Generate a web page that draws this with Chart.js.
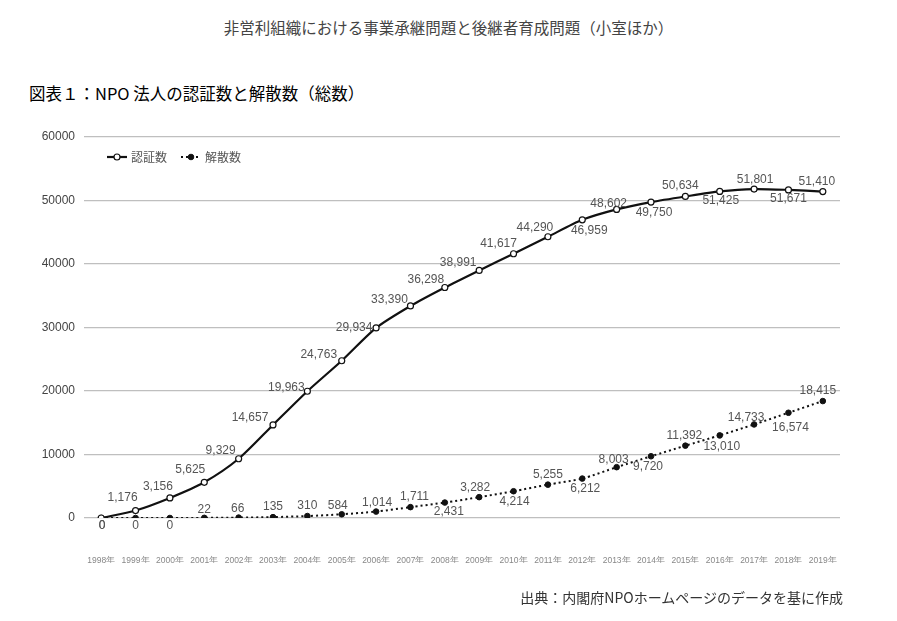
<!DOCTYPE html>
<html lang="ja">
<head>
<meta charset="utf-8">
<script src="https://cdn.jsdelivr.net/npm/chart.js@4.4.1/dist/chart.umd.min.js"></script>
<style>
  html, body { margin: 0; padding: 0; background: #fff; }
  #wrap { position: relative; width: 897px; height: 621px; overflow: hidden; font-family: "Noto Sans CJK JP", "Noto Sans", sans-serif; }
  #chart { position: absolute; left: 0; top: 0; }
  .txt { position: absolute; line-height: 1; white-space: nowrap; }
  #title { top: 20px; left: 0; width: 897px; text-align: center; font-size: 15.5px; color: #444; }
  #subtitle { top: 85px; left: 29px; font-size: 16.5px; font-weight: 400; color: #000; }
  #source { top: 590px; right: 54px; font-size: 14px; color: #333; }
</style>
</head>
<body>
<div id="wrap">
  <div id="title" class="txt">非営利組織における事業承継問題と後継者育成問題（小室ほか）</div>
  <div id="subtitle" class="txt">図表１：NPO 法人の認証数と解散数（総数）</div>
  <canvas id="chart" width="897" height="621"></canvas>
  <div id="source" class="txt">出典：内閣府NPOホームページのデータを基に作成</div>
</div>
<script>
// データ
const years = ['1998年', '1999年', '2000年', '2001年', '2002年', '2003年', '2004年', '2005年', '2006年', '2007年', '2008年',
    '2009年', '2010年', '2011年', '2012年', '2013年', '2014年', '2015年', '2016年', '2017年', '2018年', '2019年'];
const ninshou = [0, 1176, 3156, 5625, 9329, 14657, 19963, 24763, 29934, 33390, 36298,
    38991, 41617, 44290, 46959, 48602, 49750, 50634, 51425, 51801, 51671, 51410];
const kaisan = [0, 0, 0, 22, 66, 135, 310, 584, 1014, 1711, 2431,
    3282, 4214, 5255, 6212, 8003, 9720, 11392, 13010, 14733, 16574, 18415];
const yTicks = [0, 10000, 20000, 30000, 40000, 50000, 60000];

// ラベルの位置 (dx, dy)
const ninshouLabelPos = [[1, 8], [-13, -13], [-12, -11], [-14, -13], [-18, -8], [-23, -7], [-21, -4], [-23, -6], [-22, 0],
    [-21, -6], [-19, -8], [-21, -8], [-15, -10], [-13, -9], [7, 11], [-8, -6], [3, 11], [-5, -11], [1, 9], [1, -9], [0, 9], [-6, -10]];
const kaisanLabelPos = [[1, 8], [0, 8], [0, 8], [0, -8], [-1, -9], [0, -10], [0, -10], [-4, -9], [1, -9], [4, -10], [4, 9],
    [-4, -9], [1, 10], [0, -10], [3, 10], [-3, -7], [-3, 10], [-1, -10], [2, 11], [-8, -7], [2, 15], [-5, -10]];

const fmt = v => v.toLocaleString('en-US');

// データラベル
const dataLabels = {
    id: 'dataLabels',
    afterDatasetsDraw(chart) {
        const ctx = chart.ctx;
        const posList = [ninshouLabelPos, kaisanLabelPos];
        ctx.save();
        ctx.font = '12px "Liberation Sans", Arial, sans-serif';
        ctx.fillStyle = '#555';
        ctx.textAlign = 'center';
        ctx.textBaseline = 'middle';
        chart.data.datasets.forEach((ds, di) => {
            const meta = chart.getDatasetMeta(di);
            meta.data.forEach((pt, i) => {
                const p = posList[di][i];
                ctx.fillText(fmt(ds.data[i]), pt.x + p[0], pt.y + p[1]);
            });
        });
        ctx.restore();
    }
};

// 凡例 (グラフ内)
const innerLegend = {
    id: 'innerLegend',
    afterDraw(chart) {
        const ctx = chart.ctx;
        const y = 157;
        const items = [
            { x: 107, ds: chart.data.datasets[0] },
            { x: 181, ds: chart.data.datasets[1] }
        ];
        ctx.save();
        items.forEach(it => {
            ctx.beginPath();
            ctx.strokeStyle = it.ds.borderColor;
            ctx.lineWidth = it.ds.borderWidth;
            ctx.setLineDash(it.ds.borderDash || []);
            ctx.moveTo(it.x, y);
            ctx.lineTo(it.x + 20, y);
            ctx.stroke();
            ctx.setLineDash([]);
            ctx.beginPath();
            ctx.arc(it.x + 10, y, it.ds.pointRadius, 0, Math.PI * 2);
            ctx.fillStyle = it.ds.pointBackgroundColor;
            ctx.fill();
            ctx.lineWidth = it.ds.pointBorderWidth;
            ctx.strokeStyle = it.ds.pointBorderColor;
            ctx.stroke();
            ctx.font = '12px "Noto Sans CJK JP", sans-serif';
            ctx.fillStyle = '#555';
            ctx.textAlign = 'left';
            ctx.textBaseline = 'middle';
            ctx.fillText(it.ds.label, it.x + 24, y);
        });
        ctx.restore();
    }
};

new Chart(document.getElementById('chart').getContext('2d'), {
    type: 'line',
    data: {
        labels: years,
        datasets: [{
            label: '認証数',
            data: ninshou,
            borderColor: '#111',
            borderWidth: 2.2,
            tension: 0.25,
            pointRadius: 3,
            pointBackgroundColor: '#fff',
            pointBorderColor: '#111',
            pointBorderWidth: 1.2
        }, {
            label: '解散数',
            data: kaisan,
            borderColor: '#111',
            borderWidth: 2,
            borderDash: [2, 3],
            tension: 0.25,
            pointRadius: 2.8,
            pointBackgroundColor: '#111',
            pointBorderColor: '#111',
            pointBorderWidth: 1
        }]
    },
    options: {
        responsive: false,
        animation: false,
        events: [],
        layout: { padding: { left: 0, top: 137, right: 57, bottom: 58 } },
        scales: {
            x: {
                offset: true,
                grid: { display: false },
                border: { display: false },
                ticks: {
                    color: '#888',
                    padding: 30,
                    maxRotation: 0,
                    autoSkip: false,
                    font: { size: 8.5, family: '"Liberation Sans", Arial, sans-serif' }
                },
                afterFit: s => { s.height = 45; }
            },
            y: {
                min: 0,
                max: 60000,
                afterBuildTicks: s => { s.ticks = yTicks.map(v => ({ value: v })); },
                grid: { color: '#bfbfbf', lineWidth: 1.2, drawTicks: false },
                border: { display: false },
                ticks: {
                    color: '#444',
                    padding: 9,
                    font: { size: 12, family: '"Liberation Sans", Arial, sans-serif' },
                    callback: v => String(v)
                },
                afterFit: s => { s.width = 84; }
            }
        },
        plugins: {
            legend: { display: false },
            tooltip: { enabled: false }
        }
    },
    plugins: [dataLabels, innerLegend]
});
</script>
</body>
</html>
